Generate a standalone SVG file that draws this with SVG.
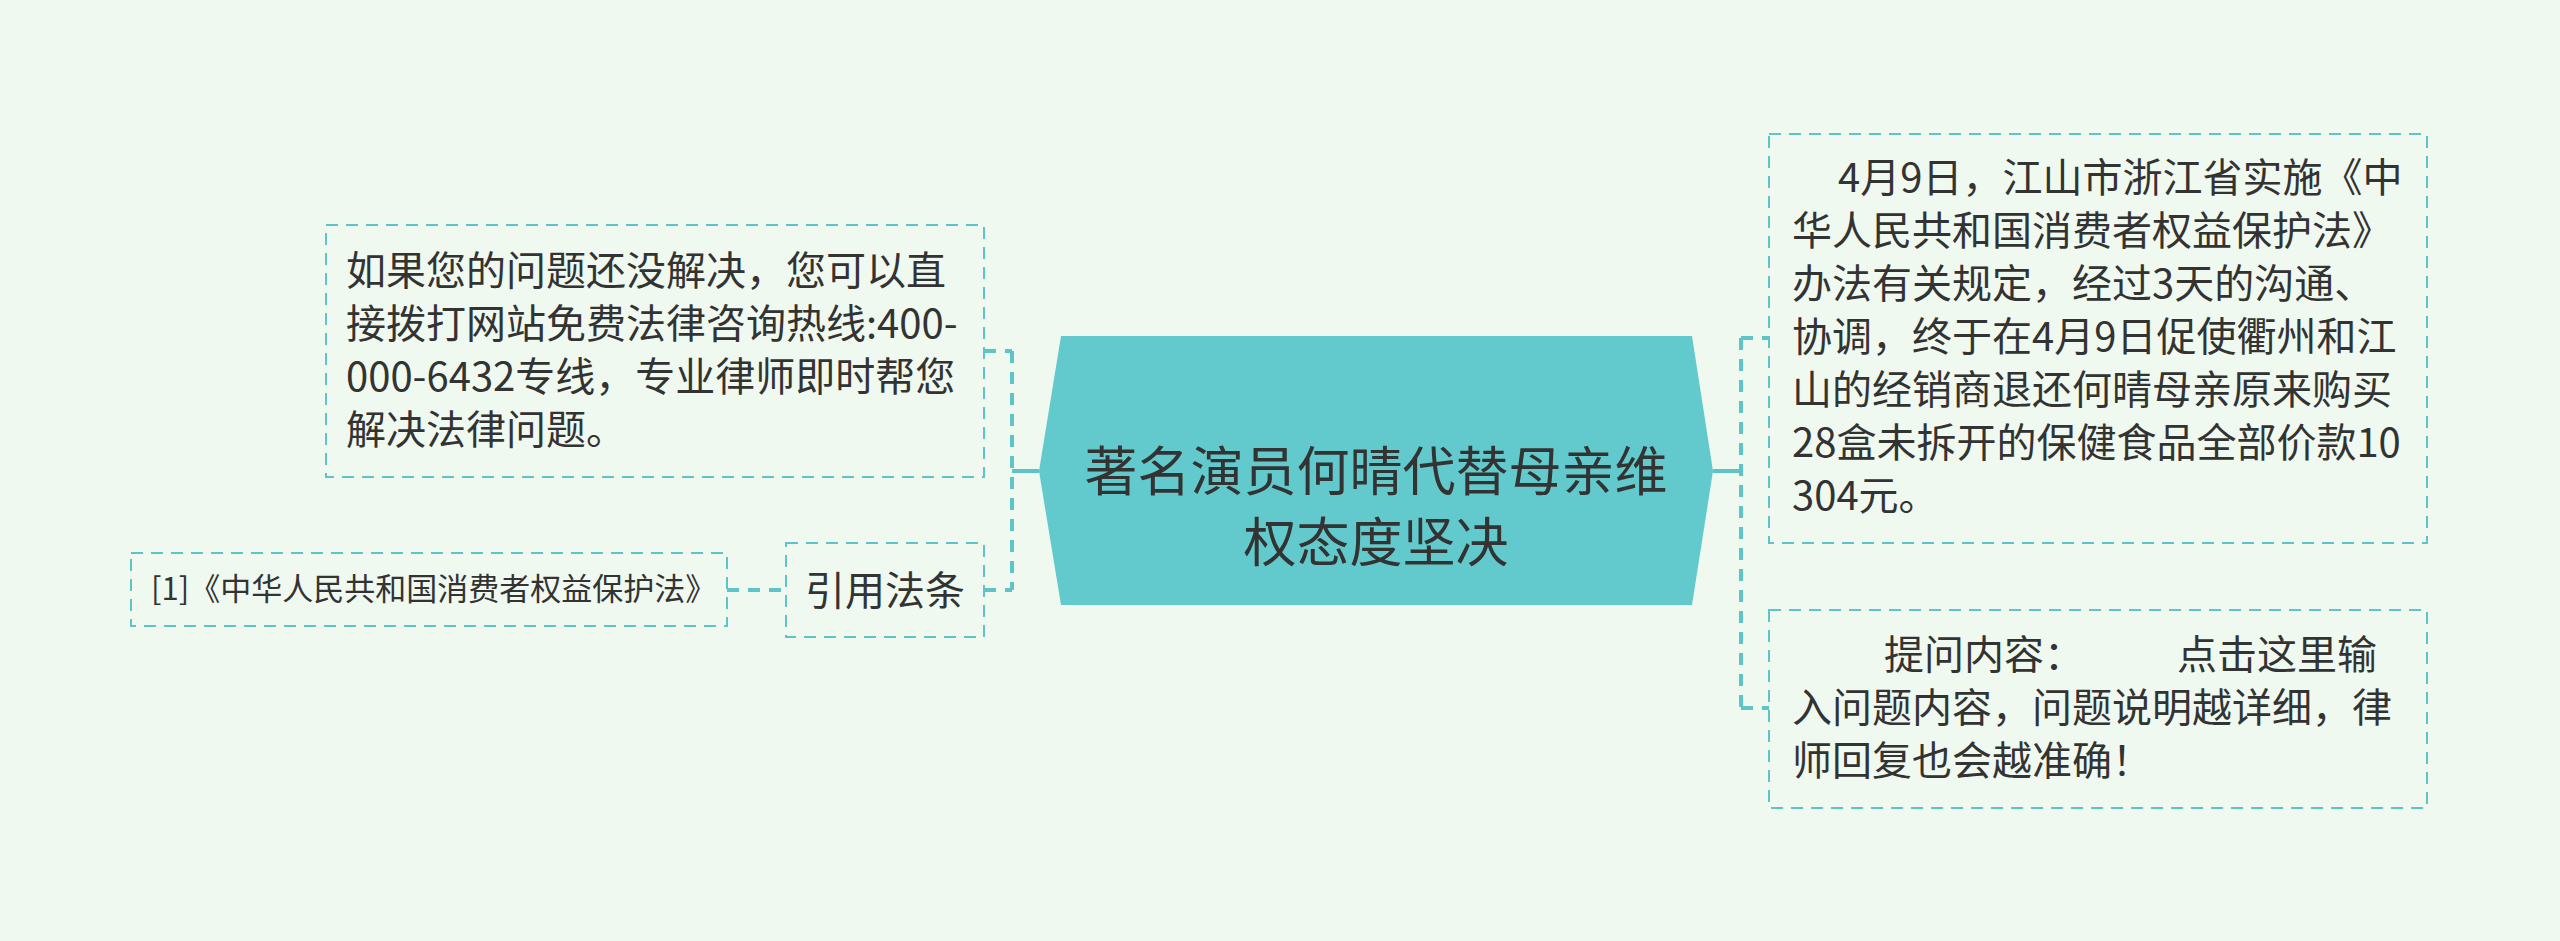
<svg xmlns="http://www.w3.org/2000/svg" width="2560" height="941" viewBox="0 0 2560 941">
<style>
.t{font-family:"Noto Sans CJK SC","Noto Sans",sans-serif;fill:#333333;}
.box{fill:none;stroke:#5FC4C8;stroke-width:2;stroke-dasharray:12 8;}
.dc{fill:none;stroke:#5FC4C8;stroke-width:4;stroke-dasharray:12 9;}
.sc{fill:none;stroke:#5FC4C8;stroke-width:4;}
</style>
<rect width="2560" height="941" fill="#EFF9EF"/>
<g id="connectors">
<path class="sc" d="M1039 471 H1012"/>
<path class="dc" d="M1012 351 V590"/>
<path class="dc" d="M984 351 H1012"/>
<path class="dc" d="M984 590 H1012"/>
<path class="dc" d="M727 590 H786"/>
<path class="sc" d="M1713 471 H1741"/>
<path class="dc" d="M1741 338 V708"/>
<path class="dc" d="M1741 338 H1769"/>
<path class="dc" d="M1741 708 H1769"/>
</g>
<g id="center">
<polygon points="1061,336 1692,336 1713,471 1692,605 1061,605 1039,471" fill="#62CACC"/>
<text class="t" font-size="53" text-anchor="middle"><tspan x="1376" y="491">著名演员何晴代替母亲维</tspan><tspan x="1376" y="562">权态度坚决</tspan></text>
</g>
<g id="node-hotline">
<rect class="box" x="326" y="225" width="658" height="252"/>
<text class="t" font-size="40"><tspan x="346" y="285">如果您的问题还没解决，您可以直</tspan><tspan x="346" y="338">接拨打网站免费法律咨询热线:400-</tspan><tspan x="346" y="391">000-6432专线，专业律师即时帮您</tspan><tspan x="346" y="444">解决法律问题。</tspan></text>
</g>
<g id="node-law">
<rect class="box" x="786" y="543" width="198" height="94"/>
<text class="t" font-size="40" x="885" y="605" text-anchor="middle">引用法条</text>
</g>
<g id="node-citation">
<rect class="box" x="131" y="553" width="596" height="73"/>
<text class="t" font-size="31" x="151" y="600">[1]《中华人民共和国消费者权益保护法》</text>
</g>
<g id="node-case">
<rect class="box" x="1769" y="134" width="658" height="409"/>
<text class="t" font-size="40"><tspan x="1838" y="192">4月9日，江山市浙江省实施《中</tspan><tspan x="1792" y="245">华人民共和国消费者权益保护法》</tspan><tspan x="1792" y="298">办法有关规定，经过3天的沟通、</tspan><tspan x="1792" y="351">协调，终于在4月9日促使衢州和江</tspan><tspan x="1792" y="404">山的经销商退还何晴母亲原来购买</tspan><tspan x="1792" y="457">28盒未拆开的保健食品全部价款10</tspan><tspan x="1792" y="510">304元。</tspan></text>
</g>
<g id="node-question">
<rect class="box" x="1769" y="610" width="658" height="198"/>
<text class="t" font-size="40"><tspan x="1884" y="669">提问内容：</tspan><tspan x="2177" y="669">点击这里输</tspan><tspan x="1792" y="722">入问题内容，问题说明越详细，律</tspan><tspan x="1792" y="775">师回复也会越准确！</tspan></text>
</g>
</svg>
